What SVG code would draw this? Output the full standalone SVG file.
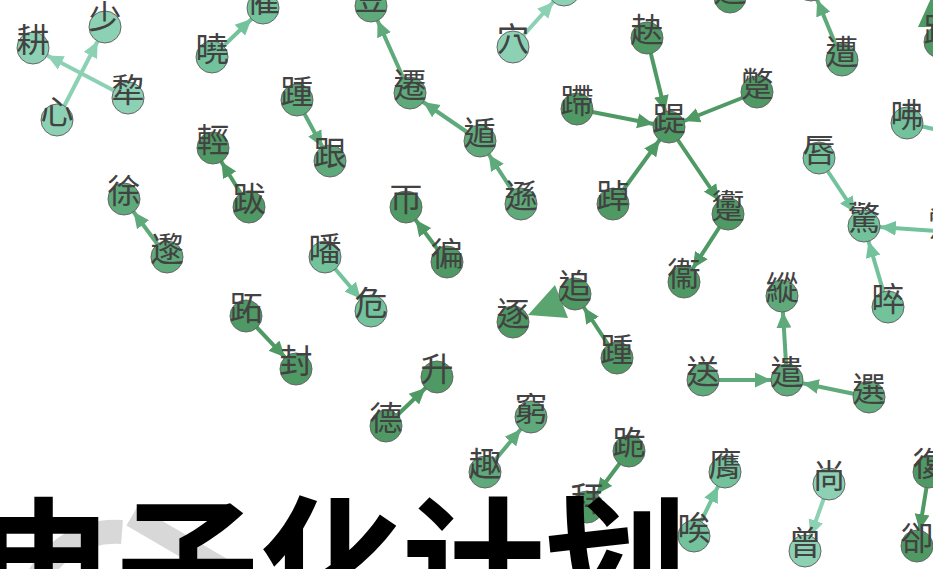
<svg xmlns="http://www.w3.org/2000/svg" width="933" height="569" viewBox="0 0 933 569">
<style>
.n circle{stroke:#666;stroke-width:1}
.n text{font-family:"Noto Sans CJK TC","Noto Sans CJK SC",sans-serif;font-size:33px;fill:#424242;text-anchor:middle}
.L{fill:#8dd1b5}.LM{fill:#72c29c}.M{fill:#5faa7b}.D{fill:#4f9a64}
.e line{stroke-width:4}
.eL{stroke:#8dd1b5}.eLM{stroke:#72c29c}.eM{stroke:#5faa7b}.eD{stroke:#4f9a64}
.big{font-family:"Noto Sans CJK SC",sans-serif;font-size:143px;font-weight:700;fill:#000}
</style>
<defs>
<marker id="aL" viewBox="0 -8 34 16" markerWidth="34" markerHeight="16" refX="32" refY="0" orient="auto" markerUnits="userSpaceOnUse"><path d="M0,-7.5L16,0L0,7.5Z" fill="#8dd1b5"/></marker>
<marker id="aLM" viewBox="0 -8 34 16" markerWidth="34" markerHeight="16" refX="32" refY="0" orient="auto" markerUnits="userSpaceOnUse"><path d="M0,-7.5L16,0L0,7.5Z" fill="#72c29c"/></marker>
<marker id="aM" viewBox="0 -8 34 16" markerWidth="34" markerHeight="16" refX="32" refY="0" orient="auto" markerUnits="userSpaceOnUse"><path d="M0,-7.5L16,0L0,7.5Z" fill="#5faa7b"/></marker>
<marker id="aD" viewBox="0 -8 34 16" markerWidth="34" markerHeight="16" refX="32" refY="0" orient="auto" markerUnits="userSpaceOnUse"><path d="M0,-7.5L16,0L0,7.5Z" fill="#4f9a64"/></marker>
</defs>
<rect width="933" height="569" fill="#fff"/>
<g id="watermark" fill="none" stroke="#d8d8d8">
<path d="M32,592 A88,88 0 0 1 122,532" stroke-width="24"/>
<path d="M132,516 L238,578" stroke-width="22"/>
</g>
<g id="connectors" class="e">
<line class="eL" x1="57" y1="120" x2="105" y2="27" marker-end="url(#aL)"/>
<line class="eL" x1="128" y1="98" x2="33" y2="48" marker-end="url(#aL)"/>
<line class="eL" x1="513" y1="47" x2="564" y2="-10" marker-end="url(#aL)"/>
<line class="eL" x1="829" y1="484" x2="805" y2="551" marker-end="url(#aL)"/>
<line class="eLM" x1="212" y1="57" x2="263" y2="8" marker-end="url(#aLM)"/>
<line class="eLM" x1="819" y1="158" x2="864" y2="226" marker-end="url(#aLM)"/>
<line class="eLM" x1="950" y1="232" x2="864" y2="226" marker-end="url(#aLM)"/>
<line class="eLM" x1="888" y1="307" x2="864" y2="226" marker-end="url(#aLM)"/>
<line class="eLM" x1="907" y1="123" x2="960" y2="135"/>
<line class="eLM" x1="325" y1="257" x2="371" y2="311" marker-end="url(#aLM)"/>
<line class="eLM" x1="694" y1="536" x2="725" y2="472" marker-end="url(#aLM)"/>
<line class="eM" x1="297" y1="100" x2="330" y2="161" marker-end="url(#aM)"/>
<line class="eM" x1="410" y1="93" x2="371" y2="6" marker-end="url(#aM)"/>
<line class="eM" x1="480" y1="141" x2="410" y2="93" marker-end="url(#aM)"/>
<line class="eM" x1="521" y1="204" x2="480" y2="141" marker-end="url(#aM)"/>
<line class="eM" x1="842" y1="60" x2="811" y2="-15" marker-end="url(#aM)"/>
<line class="eM" x1="167" y1="257" x2="124" y2="199" marker-end="url(#aM)"/>
<line class="eM" x1="485" y1="472" x2="531" y2="417" marker-end="url(#aM)"/>
<line class="eM" x1="787" y1="380" x2="782" y2="296" marker-end="url(#aM)"/>
<line class="eM" x1="703" y1="380" x2="787" y2="380" marker-end="url(#aM)"/>
<line class="eM" x1="869" y1="397" x2="787" y2="380" marker-end="url(#aM)"/>
<line class="eD" x1="249" y1="207" x2="213" y2="148" marker-end="url(#aD)"/>
<line class="eD" x1="647" y1="38" x2="669" y2="127" marker-end="url(#aD)"/>
<line class="eD" x1="757" y1="92" x2="669" y2="127" marker-end="url(#aD)"/>
<line class="eD" x1="577" y1="109" x2="669" y2="127" marker-end="url(#aD)"/>
<line class="eD" x1="613" y1="204" x2="669" y2="127" marker-end="url(#aD)"/>
<line class="eD" x1="669" y1="127" x2="728" y2="214" marker-end="url(#aD)"/>
<line class="eD" x1="728" y1="214" x2="684" y2="282" marker-end="url(#aD)"/>
<line class="eD" x1="447" y1="262" x2="406" y2="207" marker-end="url(#aD)"/>
<line class="eD" x1="246" y1="316" x2="296" y2="369" marker-end="url(#aD)"/>
<line class="eD" x1="617" y1="358" x2="575" y2="294" marker-end="url(#aD)"/>
<line class="eD" x1="386" y1="426" x2="437" y2="377" marker-end="url(#aD)"/>
<line class="eD" x1="629" y1="451" x2="587" y2="507" marker-end="url(#aD)"/>
<line class="eD" x1="929" y1="472" x2="917" y2="546" marker-end="url(#aD)"/>
<line class="eD" x1="575" y1="294" x2="540" y2="310"/>
<path d="M528,315L555,285L568,318Z" fill="#5aa470"/>
<line class="eD" x1="940" y1="42" x2="930" y2="10"/>
<path d="M932,-4L918,27L946,27Z" fill="#4f9a64"/>
</g>
<g id="n-x1" class="n"><circle class="L" cx="564" cy="-10" r="16"/></g>
<g id="n-x2" class="n"><circle class="M" cx="811" cy="-15" r="16"/></g>
<g id="n-x3" class="n"><circle class="LM" cx="950" cy="232" r="16"/><text x="944" y="236">鷩</text></g>
<g id="n-x6" class="n"><circle class="D" cx="730" cy="-3" r="16"/><text x="730" y="1">逭</text></g>
<g id="n-geng" class="n"><circle class="L" cx="33" cy="48" r="16"/><text x="33" y="52">耕</text></g>
<g id="n-shao" class="n"><circle class="L" cx="105" cy="27" r="16"/><text x="105" y="29">少</text></g>
<g id="n-xin" class="n"><circle class="L" cx="57" cy="120" r="16"/><text x="57" y="124">心</text></g>
<g id="n-li" class="n"><circle class="L" cx="128" cy="98" r="16"/><text x="128" y="102">犂</text></g>
<g id="n-xiao" class="n"><circle class="LM" cx="212" cy="57" r="16"/><text x="212" y="61">曉</text></g>
<g id="n-cui" class="n"><circle class="LM" cx="263" cy="8" r="16"/><text x="263" y="12">催</text></g>
<g id="n-qing" class="n"><circle class="D" cx="213" cy="148" r="16"/><text x="213" y="152">輕</text></g>
<g id="n-ba" class="n"><circle class="D" cx="249" cy="207" r="16"/><text x="249" y="211">跋</text></g>
<g id="n-zhong1" class="n"><circle class="M" cx="297" cy="100" r="16"/><text x="297" y="104">踵</text></g>
<g id="n-gen" class="n"><circle class="M" cx="330" cy="161" r="16"/><text x="330" y="165">跟</text></g>
<g id="n-dou" class="n"><circle class="M" cx="371" cy="6" r="16"/><text x="371" y="10">豆</text></g>
<g id="n-qian" class="n"><circle class="M" cx="410" cy="93" r="16"/><text x="410" y="97">遷</text></g>
<g id="n-dun" class="n"><circle class="M" cx="480" cy="141" r="16"/><text x="480" y="145">遁</text></g>
<g id="n-xun" class="n"><circle class="M" cx="521" cy="204" r="16"/><text x="521" y="208">遜</text></g>
<g id="n-xue" class="n"><circle class="L" cx="513" cy="47" r="16"/><text x="513" y="51">穴</text></g>
<g id="n-jue" class="n"><circle class="D" cx="647" cy="38" r="16"/><text x="647" y="42">赽</text></g>
<g id="n-di" class="n"><circle class="D" cx="669" cy="127" r="16"/><text x="669" y="131">踶</text></g>
<g id="n-bie" class="n"><circle class="D" cx="757" cy="92" r="16"/><text x="757" y="96">蹩</text></g>
<g id="n-dai" class="n"><circle class="D" cx="577" cy="109" r="16"/><text x="577" y="113">蹛</text></g>
<g id="n-chuo" class="n"><circle class="D" cx="613" cy="204" r="16"/><text x="613" y="208">踔</text></g>
<g id="n-wei1" class="n"><circle class="D" cx="728" cy="214" r="16"/><text x="728" y="218">躛</text></g>
<g id="n-wei2" class="n"><circle class="D" cx="684" cy="282" r="16"/><text x="684" y="286">衞</text></g>
<g id="n-zao" class="n"><circle class="M" cx="842" cy="60" r="16"/><text x="842" y="64">遭</text></g>
<g id="n-lu" class="n"><circle class="D" cx="940" cy="42" r="16"/><text x="940" y="42">路</text></g>
<g id="n-fu" class="n"><circle class="LM" cx="907" cy="123" r="16"/><text x="907" y="127">咈</text></g>
<g id="n-chun" class="n"><circle class="LM" cx="819" cy="158" r="16"/><text x="819" y="162">唇</text></g>
<g id="n-jing" class="n"><circle class="LM" cx="864" cy="226" r="16"/><text x="864" y="230">驚</text></g>
<g id="n-zui" class="n"><circle class="LM" cx="888" cy="307" r="16"/><text x="888" y="311">晬</text></g>
<g id="n-zong" class="n"><circle class="M" cx="782" cy="296" r="16"/><text x="782" y="300">縱</text></g>
<g id="n-qian2" class="n"><circle class="M" cx="787" cy="380" r="16"/><text x="787" y="384">遣</text></g>
<g id="n-song" class="n"><circle class="M" cx="703" cy="380" r="16"/><text x="703" y="384">送</text></g>
<g id="n-xuan" class="n"><circle class="M" cx="869" cy="397" r="16"/><text x="869" y="401">選</text></g>
<g id="n-xu" class="n"><circle class="M" cx="124" cy="199" r="16"/><text x="124" y="203">徐</text></g>
<g id="n-li2" class="n"><circle class="M" cx="167" cy="257" r="16"/><text x="167" y="261">邌</text></g>
<g id="n-za" class="n"><circle class="D" cx="406" cy="207" r="16"/><text x="406" y="211">帀</text></g>
<g id="n-bian" class="n"><circle class="D" cx="447" cy="262" r="16"/><text x="447" y="266">徧</text></g>
<g id="n-fan" class="n"><circle class="LM" cx="325" cy="257" r="16"/><text x="325" y="261">噃</text></g>
<g id="n-wei" class="n"><circle class="LM" cx="371" cy="311" r="16"/><text x="371" y="315">危</text></g>
<g id="n-zhi" class="n"><circle class="D" cx="246" cy="316" r="16"/><text x="246" y="320">跖</text></g>
<g id="n-feng" class="n"><circle class="D" cx="296" cy="369" r="16"/><text x="296" y="373">封</text></g>
<g id="n-zhui" class="n"><circle class="D" cx="575" cy="294" r="16"/><text x="575" y="298">追</text></g>
<g id="n-zhu" class="n"><circle class="D" cx="513" cy="322" r="16"/><text x="513" y="326">逐</text></g>
<g id="n-zhong2" class="n"><circle class="D" cx="617" cy="358" r="16"/><text x="617" y="362">踵</text></g>
<g id="n-sheng" class="n"><circle class="D" cx="437" cy="377" r="16"/><text x="437" y="381">升</text></g>
<g id="n-de" class="n"><circle class="D" cx="386" cy="426" r="16"/><text x="386" y="430">德</text></g>
<g id="n-qiong" class="n"><circle class="M" cx="531" cy="417" r="16"/><text x="531" y="421">窮</text></g>
<g id="n-qu" class="n"><circle class="M" cx="485" cy="472" r="16"/><text x="485" y="476">趣</text></g>
<g id="n-gui" class="n"><circle class="D" cx="629" cy="451" r="16"/><text x="629" y="455">跪</text></g>
<g id="n-bai" class="n"><circle class="D" cx="587" cy="507" r="16"/><text x="587" y="511">拜</text></g>
<g id="n-ying" class="n"><circle class="LM" cx="725" cy="472" r="16"/><text x="725" y="476">膺</text></g>
<g id="n-ai" class="n"><circle class="LM" cx="694" cy="536" r="16"/><text x="694" y="540">唉</text></g>
<g id="n-shang" class="n"><circle class="L" cx="829" cy="484" r="16"/><text x="829" y="488">尚</text></g>
<g id="n-ceng" class="n"><circle class="L" cx="805" cy="551" r="16"/><text x="805" y="555">曾</text></g>
<g id="n-fu2" class="n"><circle class="D" cx="929" cy="472" r="16"/><text x="929" y="476">復</text></g>
<g id="n-que" class="n"><circle class="D" cx="917" cy="546" r="16"/><text x="917" y="550">卻</text></g>
<text class="big" x="-27" y="618">电子化计划</text>
</svg>
